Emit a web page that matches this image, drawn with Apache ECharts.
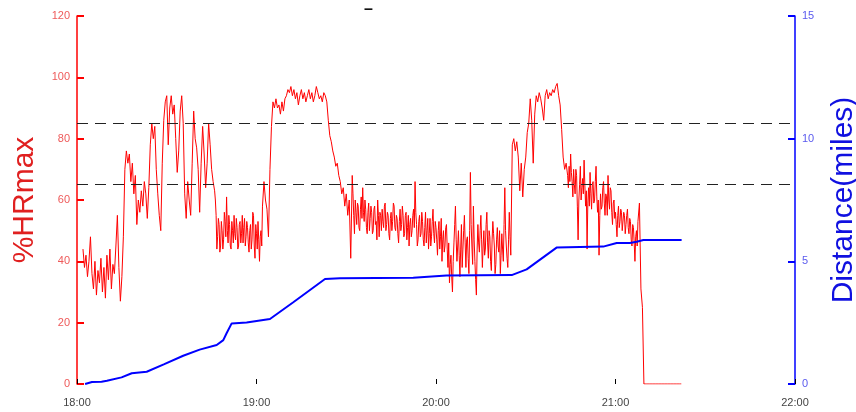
<!DOCTYPE html>
<html>
<head>
<meta charset="utf-8">
<script src="https://cdn.jsdelivr.net/npm/echarts@6/dist/echarts.min.js"></script>
<style>html,body{margin:0;padding:0;background:#fff}#c{width:856px;height:412px}</style>
</head>
<body>
<div id="c"></div>
<script>
// x tick labels (minutes after 18:00 -> label)
const xTickLabels = ['18:00', '19:00', '20:00', '21:00', '22:00'];
const hrTicks = [0, 20, 40, 60, 80, 100, 120];
const distTicks = [0, 5, 10, 15];
const zoneLines = [85, 65];

// %HRmax samples, in segments: [start minute after 18:00, step in minutes, values]
const hrSeg1 = [2, 0.5, [
  44,38,42,35,40,48,36,31,40,29,37,33,41,30,38,28,42,34,44,31,39,36,45,55,38,27,35,
  48,70,76,72,75,66,72,62,68,52,60,56,63,58,66,62,54,64,
  78,85,80,84,70,62,55,50,72,86,92,94,78,90,94,88,91,80,69,76,89,94,85,62,54,66,60,55,72,89,80,77,70,56,72,84,75,64,72,85,78,70,66,63]];
const hrSeg2 = [46.25, 0.25, [
  60,55,44,48,54,52,43,45,53,50,44,47,56,53,48,61,50,46,55,52,45,44,53,50,46,55,49,47,54,51,44,45,
  52,53,46,49,55,46,51,54,45,48,53,51,46,43,50,52,44,47,56,55,45,41,52,49,44,53,47,40,48,50,45,58]];
const hrSeg3 = [62.5, 0.5, [
  66,60,57,48,70,84,92,90,
  93,90,91,88,92,89,93,94,96,95,97,94,96,93,95,91,94,96,93,95,92,94,96,93,95,92,94,97,95,93,94,92,95,94,
  92,86,81,79,76,74,71,72,68,66,62,64,58,62,55,60,41,68]];
const hrSeg4 = [92.25, 0.25, [
  62,55,49,60,56,52,59,58,51,50,57,61,54,64,56,53,60,57,51,49,56,59,50,54,58,56,49,50,57,58,52,53,
  47,60,55,48,56,55,50,57,53,51,58,59,50,52,56,55,49,47,54,56,50,53,59,58,51,50,55,54,49,46,53,57,
  50,52,58,55,48,49,55,56,47,51,55,45,52,54,48,50,55,57,51,66,
  56,52,45,47,53,55,48,49,56,53,47,45,51,56,46,50,54,44,49,54,45,48,53,57,49,46,53,51,47,42,50,53,
  44,48,54,40,47,50,43,45,51,52,44,38,
  46,33,39,42,35,30,40,46,52,58,47,40,45,50,42,35,44,52,38,44,50,55,46,38,47,48,41,36,50,69,52,45,
  39,58,47,40,34,29,44,52,46,43,50,55,47,38,45,50,42,44,52,56,46,41,50,48,40,37,47,53,49,45,36,39,
  47,51,45,43,50,36,42,49,44,40,52,64,50,45,41,38,47,56,48,42]];
const hrSeg5 = [145.5, 0.5, [
  78,80,76,79,74,63,72,61,70,74,82,85,
  93,86,72,88,94,92,95,93,90,86,94,96,93,95,94,96,95,97,98,94,
  91,83,74,70,72,68]];
const hrSeg6 = [164.25, 0.25, [
  64,71,66,75,69,66,61,70,65,62,70,68,58,47,60,65,71,60,64,67,62,73,65,58,63,44,59,64,58,69,62,57,
  65,66,59,60,66,71,61,56,60,42,55,62,57,58,64,66,59,55,62,61,55,68,60,57,64,63,56,52,59,60,54,56,
  52,48,55,58,51,53,57,56,50,50,56,55,49,52,55,57,51,49,54,53,47,45,52,51,46,40,48,50,45,53]];
const hrSeg7 = [188, 0.5, [
  59,31,25,0,
  0,0,0,0,0,0,0,0,0,0,0,0,0,0,0,0,0,0,0,0,0,0,0,0,0]];

// Distance (miles): time (min after 18:00) and value
const distTimes = [2.7, 5, 8.2, 10, 14.9, 18.3, 23.3, 29, 35.5, 41, 46.7, 48.9, 50, 51.7, 56.7, 64.5, 72.3, 82.9, 87.9, 112.4, 113, 123.5, 145.3, 150.3, 160.3, 175.9, 180.4, 184.8, 187.1, 189.3, 202.1];
const distValues = [0, 0.08, 0.09, 0.13, 0.27, 0.44, 0.5, 0.8, 1.15, 1.4, 1.59, 1.79, 2.07, 2.47, 2.51, 2.65, 3.33, 4.28, 4.31, 4.33, 4.37, 4.42, 4.44, 4.67, 5.56, 5.6, 5.75, 5.75, 5.8, 5.87, 5.87];

const hrData = [];
[hrSeg1, hrSeg2, hrSeg3, hrSeg4, hrSeg5, hrSeg6, hrSeg7].forEach(([start, step, vals]) => {
  vals.forEach((v, i) => hrData.push([start + i * step, v]));
});
const distData = distTimes.map((t, i) => [t, distValues[i]]);

const FONT = 'Liberation Sans, Arial, sans-serif';
const chart = echarts.init(document.getElementById('c'), null, {renderer: 'canvas'});
chart.setOption({
  animation: false,
  backgroundColor: '#fff',
  textStyle: {fontFamily: FONT},
  title: {
    text: '–', left: 359, top: -3,
    textStyle: {fontSize: 16, fontWeight: 'bold', color: '#111', fontFamily: FONT}
  },
  grid: {left: 77, right: 61, top: 16, bottom: 28, containLabel: false, outerBoundsMode: 'none'},
  xAxis: {
    type: 'value', min: 0, max: 240, interval: 60,
    axisLine: {show: false},
    axisTick: {show: true, inside: true, length: 5, lineStyle: {color: '#000', width: 1}},
    axisLabel: {
      color: '#444', fontSize: 11, margin: 13, fontFamily: FONT,
      formatter: v => xTickLabels[Math.round(v / 60)]
    },
    splitLine: {show: false}
  },
  yAxis: [
    {
      type: 'value', min: hrTicks[0], max: hrTicks[hrTicks.length - 1], interval: 20,
      position: 'left',
      name: '%HRmax', nameLocation: 'middle', nameRotate: 90, nameGap: 37,
      nameTextStyle: {color: '#e02020', fontSize: 30, fontFamily: FONT},
      axisLine: {show: true, lineStyle: {color: '#ff0000', width: 1.5}},
      axisTick: {show: true, inside: true, length: 7, lineStyle: {color: '#ff0000', width: 2}},
      axisLabel: {color: '#ee5a5a', fontSize: 11, margin: 7, fontFamily: FONT},
      splitLine: {show: false}
    },
    {
      type: 'value', min: distTicks[0], max: distTicks[distTicks.length - 1], interval: 5,
      position: 'right',
      name: 'Distance(miles)', nameLocation: 'middle', nameRotate: 90, nameGap: 34,
      nameTextStyle: {color: '#1010e0', fontSize: 30, fontFamily: FONT},
      axisLine: {show: true, lineStyle: {color: '#0000ff', width: 1.5}},
      axisTick: {show: true, inside: true, length: 7, lineStyle: {color: '#0000ff', width: 2}},
      axisLabel: {color: '#5a5aee', fontSize: 11, margin: 7, fontFamily: FONT},
      splitLine: {show: false}
    }
  ],
  series: [
    {
      type: 'line', yAxisIndex: 0, data: hrData, showSymbol: false, symbol: 'none',
      lineStyle: {color: '#ff0000', width: 1}, z: 3,
      markLine: {
        silent: true, symbol: 'none', label: {show: false},
        lineStyle: {color: '#222', type: [11, 7], width: 1},
        data: zoneLines.map(v => ({yAxis: v}))
      }
    },
    {
      type: 'line', yAxisIndex: 1, data: distData, showSymbol: false, symbol: 'none',
      lineStyle: {color: '#0000ff', width: 2}, z: 4
    }
  ]
});
</script>
</body>
</html>
